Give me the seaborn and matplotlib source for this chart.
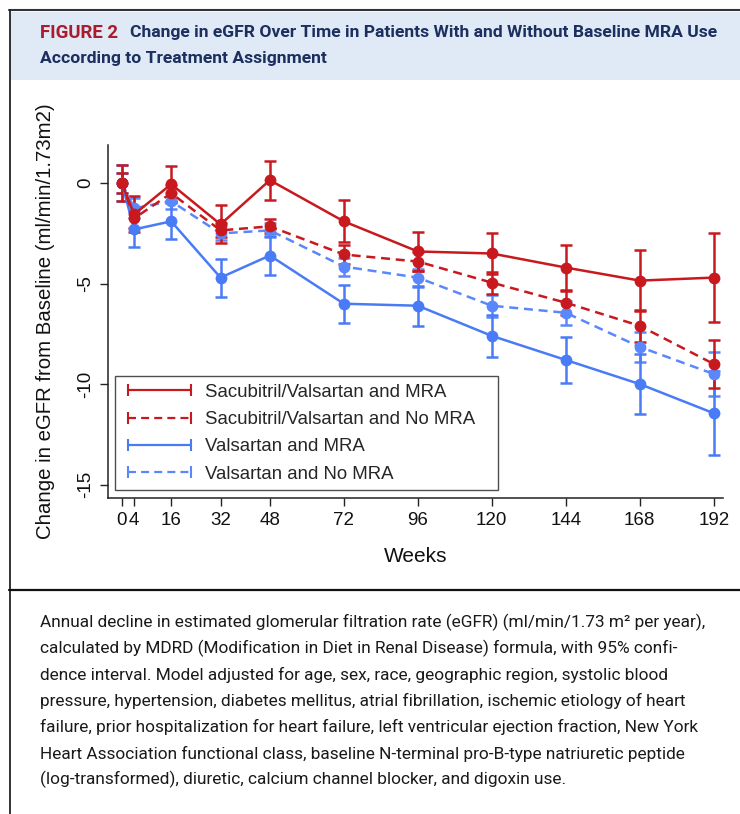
import matplotlib
matplotlib.use("Agg")
import matplotlib.pyplot as plt
import seaborn as sns
import pandas as pd
from matplotlib.lines import Line2D
from matplotlib.patches import Rectangle

# ---------------- data ----------------
weeks = [0, 4, 16, 32, 48, 72, 96, 120, 144, 168, 192]
x_tick_labels = ["0", "4", "16", "32", "48", "72", "96", "120", "144", "168", "192"]
y_ticks = [0, -5, -10, -15]
groups = ["Sacubitril/Valsartan and MRA", "Sacubitril/Valsartan and No MRA",
          "Valsartan and MRA", "Valsartan and No MRA"]

sv_mra = [0.0, -1.55, -0.05, -2.05, 0.15, -1.9, -3.4, -3.5, -4.2, -4.85, -4.7]
sv_mra_ci = [0.9, 0.9, 0.9, 0.95, 0.97, 1.05, 0.95, 1.0, 1.1, 1.5, 2.2]
sv_nomra = [0.0, -1.75, -0.5, -2.35, -2.15, -3.55, -3.9, -4.95, -5.95, -7.1, -9.0]
sv_nomra_ci = [0.5, 0.5, 0.4, 0.35, 0.35, 0.45, 0.45, 0.55, 0.6, 0.8, 1.2]
v_mra = [0.0, -2.3, -1.9, -4.7, -3.6, -6.0, -6.1, -7.6, -8.8, -10.0, -11.45]
v_mra_ci = [0.9, 0.9, 0.9, 0.95, 0.95, 0.95, 1.0, 1.05, 1.15, 1.5, 2.1]
v_nomra = [0.0, -1.25, -0.9, -2.5, -2.35, -4.15, -4.7, -6.1, -6.45, -8.15, -9.5]
v_nomra_ci = [0.5, 0.5, 0.4, 0.35, 0.35, 0.45, 0.45, 0.55, 0.6, 0.75, 1.1]

values = [sv_mra, sv_nomra, v_mra, v_nomra]
cis = [sv_mra_ci, sv_nomra_ci, v_mra_ci, v_nomra_ci]

title_tag = "FIGURE 2"
title_line1 = "Change in eGFR Over Time in Patients With and Without Baseline MRA Use"
title_line2 = "According to Treatment Assignment"
caption_lines = [
    "Annual decline in estimated glomerular filtration rate (eGFR) (ml/min/1.73 m\u00b2 per year),",
    "calculated by MDRD (Modification in Diet in Renal Disease) formula, with 95% confi-",
    "dence interval. Model adjusted for age, sex, race, geographic region, systolic blood",
    "pressure, hypertension, diabetes mellitus, atrial fibrillation, ischemic etiology of heart",
    "failure, prior hospitalization for heart failure, left ventricular ejection fraction, New York",
    "Heart Association functional class, baseline N-terminal pro-B-type natriuretic peptide",
    "(log-transformed), diuretic, calcium channel blocker, and digoxin use.",
]
x_label = "Weeks"
y_label = "Change in eGFR from Baseline (ml/min/1.73m2)"

# ---------------- style ----------------
RED = "#c8191e"
BLUE = "#4a7bf7"
BLUE_L = "#5a88fb"
colors = {groups[0]: RED, groups[1]: RED, groups[2]: BLUE, groups[3]: BLUE_L}
dash_pat = (3.6, 2.3)
dashes = {groups[0]: "", groups[1]: dash_pat, groups[2]: "", groups[3]: dash_pat}

sns.set_theme(style="white")
plt.rcParams["font.family"] = ["Liberation Sans", "DejaVu Sans"]

W, H = 740, 814
fig = plt.figure(figsize=(W / 100, H / 100), dpi=100)
fig.patch.set_facecolor("white")


def fx(x):
    return x / W


def fy(y):
    return 1 - y / H


# header band & borders
fig.add_artist(Rectangle((fx(10), fy(80)), fx(730), 68 / H, transform=fig.transFigure,
                         facecolor="#dfeaf6", edgecolor="none", zorder=0))
fig.add_artist(Line2D([fx(9), fx(740)], [fy(10), fy(10)], transform=fig.transFigure,
                      color="#333333", lw=1.5))
fig.add_artist(Line2D([fx(9.5), fx(9.5)], [fy(10), fy(814)], transform=fig.transFigure,
                      color="#222222", lw=1.3))
fig.add_artist(Line2D([fx(9), fx(740)], [fy(590), fy(590)], transform=fig.transFigure,
                      color="#111111", lw=1.6))

# titles
tfont = ["Roboto", "DejaVu Sans"]
t1 = fig.text(fx(40), fy(33), title_tag, color="#a81c2e", fontsize=13.4, fontweight="bold",
              family=tfont, va="center", ha="left")
fig.canvas.draw()
bb = t1.get_window_extent()
fig.text((bb.x1 + 12) / W, fy(33), title_line1, color="#1c2f5e", fontsize=12.6,
         fontweight="bold", family=tfont, va="center", ha="left")
fig.text(fx(40), fy(58), title_line2, color="#1c2f5e", fontsize=12.6, fontweight="bold",
         family=tfont, va="center", ha="left")

# caption
for i, line in enumerate(caption_lines):
    fig.text(fx(40), fy(622 + i * 26.3), line, color="#1a1a1a", fontsize=12.45,
             family=tfont, va="center", ha="left")

# ---------------- plot ----------------
ax = fig.add_axes([fx(108), fy(498), (723 - 108) / W, (498 - 145) / H])
ax.set_facecolor("white")

rows = []
for g, vals in zip(groups, values):
    for w, v in zip(weeks, vals):
        rows.append({"week": w, "value": v, "group": g})
df = pd.DataFrame(rows)

draw_order = [groups[3], groups[2], groups[1], groups[0]]
for g in draw_order:
    i = groups.index(g)
    ax.errorbar(weeks, values[i], yerr=cis[i], fmt="none", ecolor=colors[g], elinewidth=1.8,
                capsize=4.5, capthick=1.8, zorder=2)

sns.lineplot(data=df, x="week", y="value", hue="group", style="group",
             hue_order=draw_order, style_order=draw_order, palette=colors, dashes=dashes,
             markers={g: "o" for g in groups}, markersize=8.5, markeredgewidth=0,
             linewidth=1.8, errorbar=None, legend=False, ax=ax, zorder=3)

ax.set_xlim(-4.5, 195)
ax.set_ylim(-15.67, 1.9)
ax.set_xticks(weeks)
ax.set_xticklabels(x_tick_labels)
ax.set_yticks(y_ticks)
ax.set_yticklabels([str(t) for t in y_ticks], rotation=90, va="center")
for s in ["top", "right"]:
    ax.spines[s].set_visible(False)
for s in ["left", "bottom"]:
    ax.spines[s].set_color("#222222")
    ax.spines[s].set_linewidth(1.1)
ax.tick_params(axis="both", which="both", direction="out", length=6, width=1.0,
               color="#222222", labelsize=13.5, labelcolor="#111111", pad=4,
               bottom=True, left=True)
ax.set_xlabel(x_label, fontsize=15, color="#111111", labelpad=13)
ax.set_ylabel(y_label, fontsize=14.7, color="#111111", labelpad=16)
ax.grid(False)

handles = []
for g in groups:
    handles.append(Line2D([], [], color=colors[g], lw=1.6,
                          linestyle="-" if dashes[g] == "" else (0, dash_pat),
                          marker="|", markersize=9, markeredgewidth=1.5))
leg = ax.legend(handles, groups, numpoints=2, loc="lower left",
                bbox_to_anchor=(fx(115), fy(490), (498 - 115) / W, (490 - 376) / H),
                bbox_transform=fig.transFigure, mode="expand", borderaxespad=0,
                fontsize=13.4, handlelength=4.0, handletextpad=0.45, labelspacing=0.55,
                borderpad=0.4, frameon=True, fancybox=False)
leg.get_frame().set_edgecolor("#222222")
leg.get_frame().set_linewidth(1.0)

fig.savefig("out.png", dpi=100, facecolor="white")
